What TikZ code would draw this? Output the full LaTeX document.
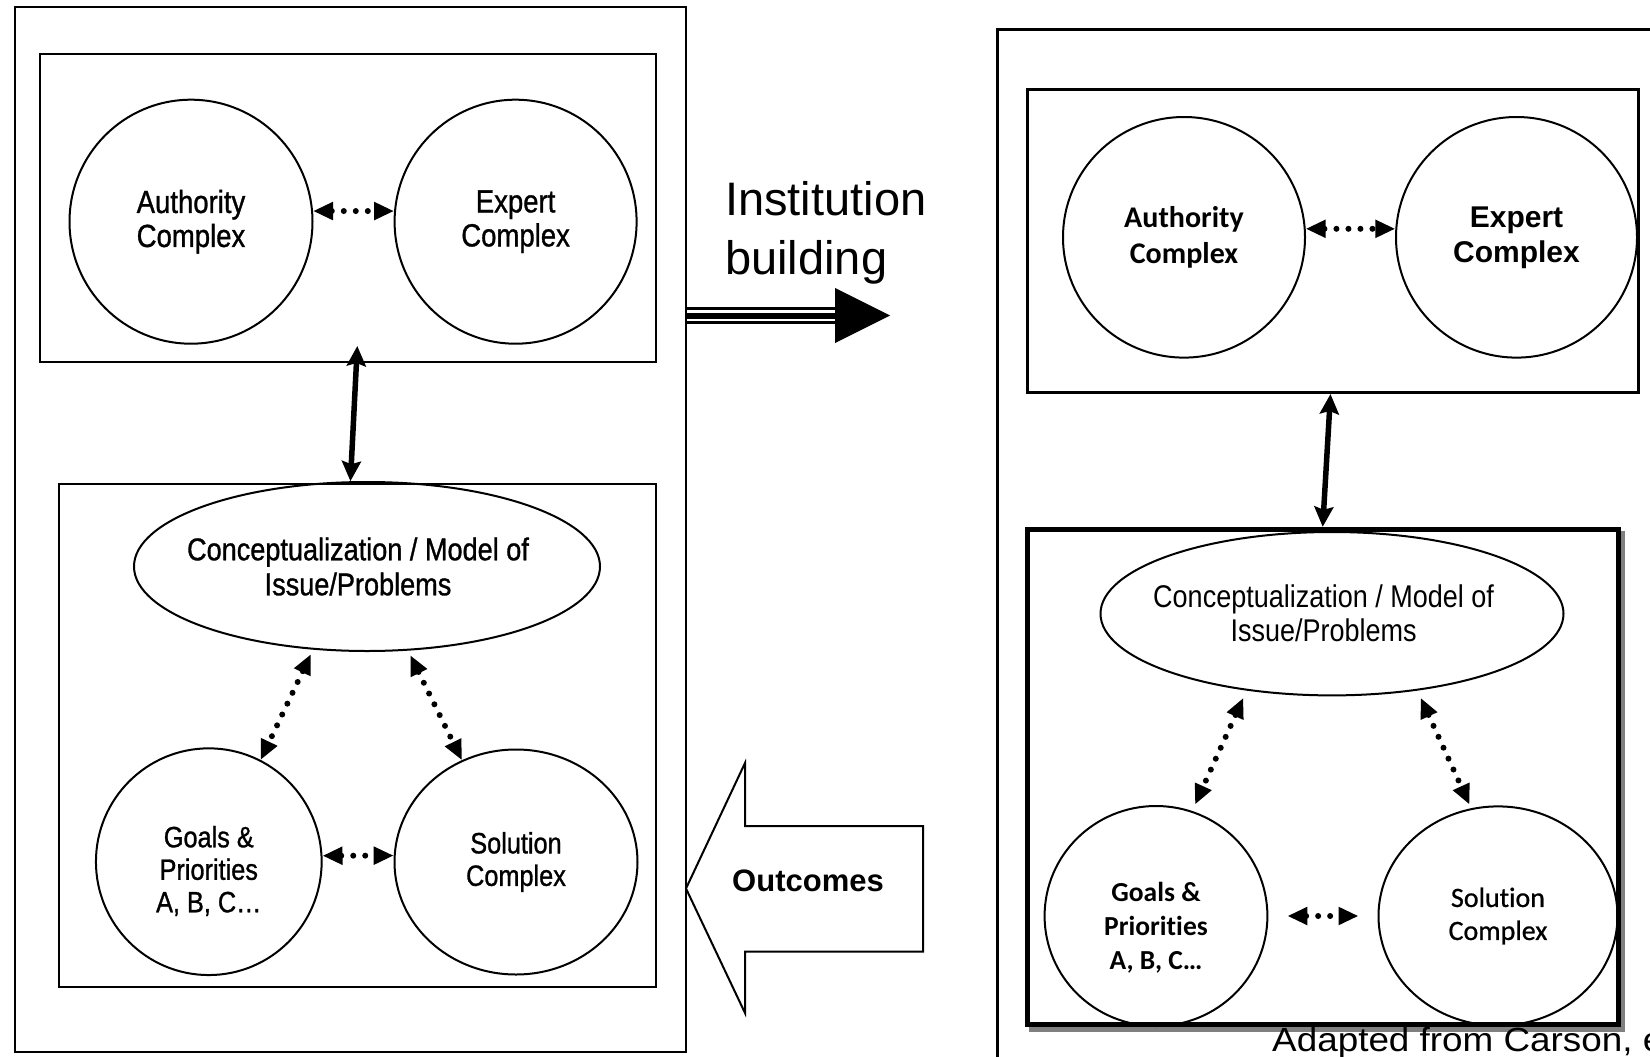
\documentclass[tikz,border=0pt]{standalone}
\usepackage{fontspec}
\setmainfont{Liberation Sans}
\newfontfamily\narrowfont[FakeStretch=0.86,FakeBold=1]{Liberation Sans}
\newfontfamily\narrowthin[FakeStretch=0.86]{Liberation Sans}
\newfontfamily\calfont[Ligatures=NoCommon]{Carlito}
\newfontfamily\calmed[Ligatures=NoCommon,FakeBold=0.8]{Carlito}
\newfontfamily\widefont[FakeStretch=1.1]{Liberation Sans}
\usetikzlibrary{shapes.geometric,arrows.meta,calc}
\tikzset{
  frame/.style={draw, rectangle, line width=2pt, inner sep=0pt},
  oval/.style={draw, ellipse, line width=2pt, inner sep=0pt, align=center},
  txt/.style={inner sep=0pt, align=center},
  dotarrow/.style={line width=6pt, line cap=round, dash pattern=on 0pt off 12pt,
    {Triangle[length=20pt,width=17pt]}-{Triangle[length=20pt,width=17pt]}},
  solidarrow/.style={line width=5.5pt,
    {Stealth[length=20pt,width=19pt,inset=3pt]}-{Stealth[length=20pt,width=19pt,inset=3pt]}},
  fAL/.style={font=\narrowfont\fontsize{32}{34}\selectfont},
  fCL/.style={font=\narrowfont\fontsize{31.5}{35}\selectfont},
  fGL/.style={font=\narrowfont\fontsize{29.4}{32.5}\selectfont},
  fAR/.style={font=\calfont\bfseries\fontsize{30}{36}\selectfont},
  fER/.style={font=\bfseries\fontsize{30}{35}\selectfont},
  fCR/.style={font=\narrowthin\fontsize{31.4}{34}\selectfont},
  fGR/.style={font=\calfont\bfseries\fontsize{27.5}{34}\selectfont},
  fSR/.style={font=\calmed\fontsize{28}{33}\selectfont},
  fIB/.style={font=\fontsize{47}{56}\selectfont},
  fOut/.style={font=\bfseries\fontsize{31}{36}\selectfont},
  fAd/.style={font=\widefont\fontsize{33.5}{40}\selectfont},
}
\begin{document}
\begin{tikzpicture}[x=1pt,y=-1pt]
\useasboundingbox (0,0) rectangle (1650,1057);
\clip (0,0) rectangle (1650,1057);
\fill[white] (0,0) rectangle (1650,1057);

% ---------------- left panel ----------------
\node[frame, minimum width=671.3pt, minimum height=1044.6pt] (outerL) at (350.35,529.7) {};
\node[frame, minimum width=615.6pt, minimum height=307.5pt] (topL) at (347.8,208.25) {};
\node[oval, fAL, minimum width=243pt, minimum height=244pt] (authL) at (191,221.7) {Authority\\Complex};
\node[oval, fAL, minimum width=242pt, minimum height=244pt] (expL) at (515.6,221.7) {Expert\\Complex};
\node[frame, minimum width=596.6pt, minimum height=503pt] (botL) at (357.3,735.5) {};
\node[oval, minimum width=466pt, minimum height=169pt] (conL) at (367,566.5) {};
\node[txt, fCL] (conLtxt) at (358,566.5) {Conceptualization / Model of\\Issue/Problems};
\node[oval, minimum width=225.7pt, minimum height=226.7pt] (goalsL) at (208.8,861.7) {};
\node[txt, fGL] (goalsLtxt) at (208.8,871) {Goals \&\\Priorities\\A, B, C…};
\node[oval, fGL, minimum width=243pt, minimum height=225pt] (solL) at (516,862) {Solution\\Complex};

\draw[dotarrow] (authL.5) -- (expL.175);
\draw[dotarrow, shorten <=5pt] (conL.237.2) -- (goalsL.63);
\draw[dotarrow, shorten <=5pt] (conL.296.2) -- (solL.118.4);
\draw[dotarrow] (goalsL.3) -- (solL.177);
\draw[solidarrow] ($(topL.south)+(9.5,-17)$) -- (conL.101.4);

% ---------------- institution building ----------------
\node[fIB, anchor=base west, inner sep=0pt] (ib1) at (725,215) {Institution};
\node[fIB, anchor=base west, inner sep=0pt] (ib2) at (725,274.5) {building};
\coordinate (ibBase) at (835,315.5);
\coordinate (ibTip) at (890,315.5);
\draw[line width=17pt] (outerL.east |- ibBase) -- (ibBase);
\draw[line width=11.5pt, white] (outerL.east |- ibBase) -- (ibBase);
\draw[line width=6pt] (outerL.east |- ibBase) -- (ibBase);
\fill (ibTip) -- ($(ibBase)+(0,-27.5)$) -- ($(ibBase)+(0,27.5)$) -- cycle;

% ---------------- outcomes ----------------
\coordinate (outTip) at (686,888.5);
\draw[line width=2pt, line join=miter, fill=white] (outTip) -- ++(59,-125.5) -- ++(0,63) -- ++(178,0)
   -- ++(0,125.7) -- ++(-178,0) -- ++(0,61.3) -- cycle;
\node[fOut, anchor=base, inner sep=0pt] (outc) at (808,891.7) {Outcomes};

% ---------------- right panel ----------------
\node[frame, line width=2.5pt, minimum width=701.4pt, minimum height=1070.5pt] (outerR) at (1348.3,564.75) {};
\node[frame, line width=3pt, minimum width=611pt, minimum height=303pt] (topR) at (1332.5,241) {};
\node[oval, fAR, minimum width=242pt, minimum height=240.6pt] (authR) at (1184,237.3) {Authority\\Complex};
\node[oval, fER, minimum width=241pt, minimum height=240.6pt] (expR) at (1516.5,237.3) {Expert\\Complex};
\draw[dotarrow] (authR.4) -- (expR.176);

\node[draw=gray, line width=5pt, rectangle, inner sep=0pt, minimum width=591.4pt, minimum height=495.2pt] (shadowR) at (1327.2,781.4) {};
\node[draw, fill=white, line width=5pt, rectangle, inner sep=0pt, minimum width=591.4pt, minimum height=495.2pt] (thickR) at (1322.7,776.9) {};
\draw[solidarrow] ($(topR.south)+(-2,0)$) -- (thickR.north);

\node[oval, minimum width=463pt, minimum height=163.4pt] (conR) at (1332,613.7) {};
\node[txt, fCR] (conRtxt) at (1323.6,613.7) {Conceptualization / Model of\\Issue/Problems};
\node[oval, minimum width=222.8pt, minimum height=220pt] (goalsR) at (1156,916) {};
\node[txt, fGR] (goalsRtxt) at (1156,928) {Goals \&\\Priorities\\A, B, C…};
\node[oval, fSR, minimum width=239pt, minimum height=219.2pt] (solR) at (1498,916) {Solution\\Complex};

\draw[dotarrow, shorten <=8pt, shorten >=7pt] (conR.222) -- (goalsR.71);
\draw[dotarrow, shorten <=8pt, shorten >=4pt] (conR.318) -- (solR.104);
\draw[dotarrow, shorten <=19pt, shorten >=19pt] (goalsR.east) -- (solR.west);

\node[fAd, anchor=base west, inner sep=0pt] (adapted) at (1272,1051) {Adapted from Carson, et al.};
\end{tikzpicture}
\end{document}
